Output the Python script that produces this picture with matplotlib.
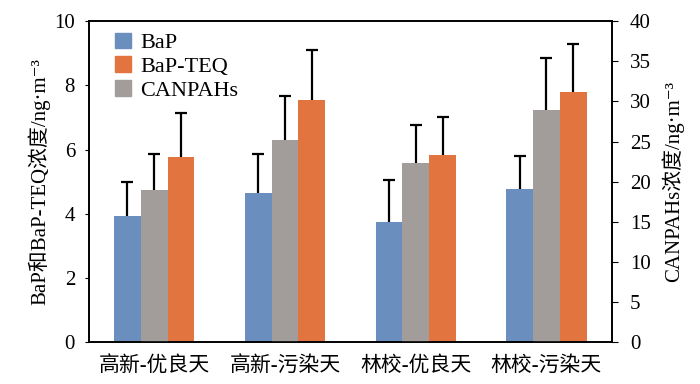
import numpy as np
import matplotlib
matplotlib.use('Agg')
import matplotlib.pyplot as plt
from matplotlib.patches import Patch

plt.rcParams['font.family'] = ['Liberation Serif', 'Noto Sans CJK SC', 'DejaVu Serif']

# 数据
categories = ['高新-优良天', '高新-污染天', '林校-优良天', '林校-污染天']
bap = [3.92, 4.66, 3.75, 4.78]
bap_err = [1.08, 1.20, 1.30, 1.02]
teq = [5.76, 7.54, 5.82, 7.78]
teq_err = [1.38, 1.56, 1.20, 1.50]
canpahs = [18.9, 25.2, 22.3, 28.9]
canpahs_err = [4.5, 5.5, 4.8, 6.5]

c_bap = '#6A8EBD'
c_teq = '#E2743F'
c_can = '#A29D9A'

fig = plt.figure(figsize=(7, 3.84), dpi=100)
ax1 = fig.add_axes([0.127, 0.109, 0.747, 0.836])
ax2 = ax1.twinx()

x = np.arange(len(categories))
w = 0.205
err_kw = dict(ecolor='black', elinewidth=1.6, capsize=4, capthick=1.6)
zero = np.zeros(len(categories))

b1 = ax1.bar(x - w, bap, w, color=c_bap, yerr=[zero, bap_err], error_kw=err_kw, zorder=2)
b2 = ax1.bar(x + w, teq, w, color=c_teq, yerr=[zero, teq_err], error_kw=err_kw, zorder=2)
b3 = ax2.bar(x, canpahs, w, color=c_can, yerr=[zero, canpahs_err], error_kw=err_kw, zorder=2)
# 只保留上方的误差棒帽
for b in (b1, b2, b3):
    b.errorbar.lines[1][0].set_visible(False)

ax1.set_xlim(-0.5, 3.5)
ax1.set_ylim(0, 10)
ax2.set_ylim(0, 40)
ax1.set_yticks(np.arange(0, 11, 2))
ax2.set_yticks(np.arange(0, 41, 5))
ax1.set_xticks(x)
ax1.set_xticklabels(categories, fontsize=15)
ax1.tick_params(axis='x', length=0, pad=10)
ax1.tick_params(axis='y', labelsize=15, direction='out', length=3, pad=7)
ax2.tick_params(axis='y', labelsize=15, direction='out', length=4, pad=9)

for ax in (ax1, ax2):
    for s in ax.spines.values():
        s.set_linewidth(1.2)

ax1.set_ylabel('BaP和BaP-TEQ浓度/ng·m⁻³', fontsize=15, labelpad=3)
ax2.set_ylabel('CANPAHs浓度/ng·m⁻³', fontsize=15, labelpad=8)

handles = [Patch(color=c_bap), Patch(color=c_teq), Patch(color=c_can)]
ax1.legend(handles, ['BaP', 'BaP-TEQ', 'CANPAHs'], loc='upper left', frameon=False,
           fontsize=16, handlelength=0.7, handleheight=0.7, handletextpad=0.4,
           labelspacing=0.15, borderaxespad=0.3, bbox_to_anchor=(0.021, 1.013))

plt.savefig('out.png', dpi=100)
